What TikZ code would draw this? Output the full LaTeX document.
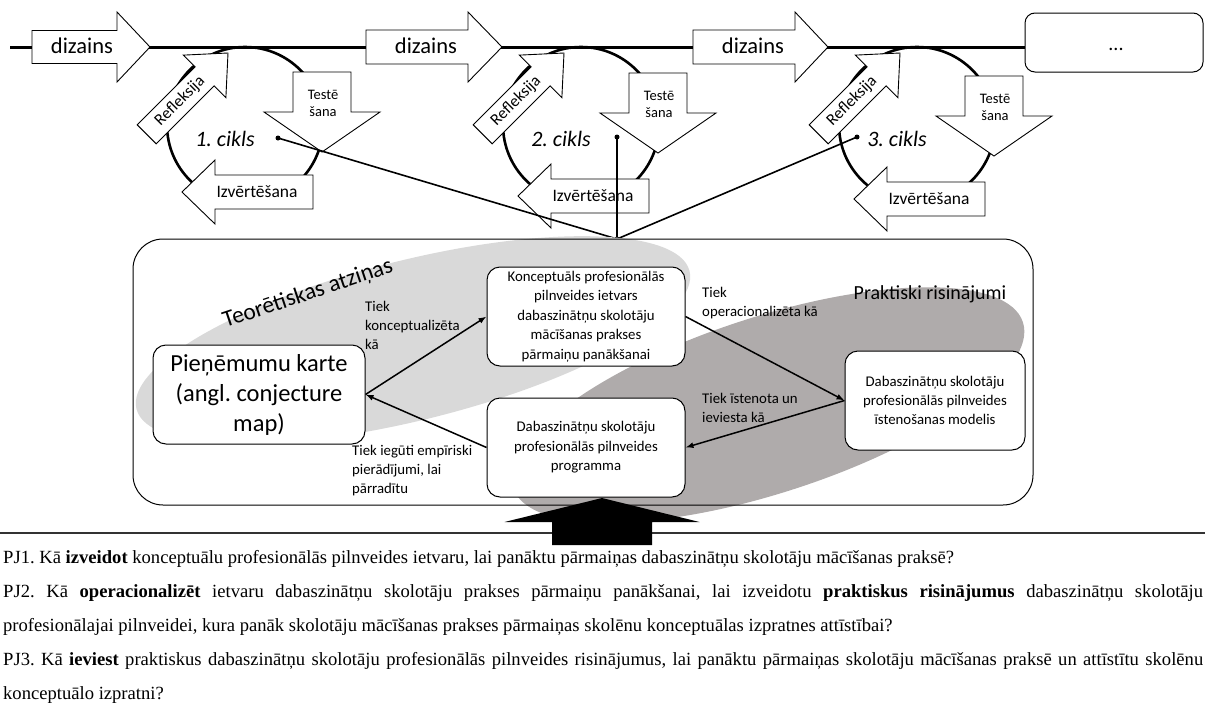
\documentclass[tikz,border=0pt]{standalone}
\usepackage{fontspec}
\setmainfont{Carlito}
\newfontfamily\serifpj{Liberation Serif}
\usetikzlibrary{arrows.meta}
\frenchspacing

% block arrow: tip x, tip y, direction, head length, head half width,
% body length, body half width, path style
\newcommand\fatarrow[8]{%
  \path[#8, shift={(#1,#2)}, rotate=#3]
    (0,0) -- (-#4,#5) -- (-#4,#7) -- ({-#4-#6},#7) -- ({-#4-#6},-#7)
    -- (-#4,-#7) -- (-#4,-#5) -- cycle;}
\newcommand\fsz[2]{\fontsize{#1}{#2}\selectfont}

\definecolor{theorygray}{RGB}{217,217,217}
\definecolor{practicegray}{RGB}{175,171,171}

\tikzset{
  outl/.style={draw=black, line width=0.9pt, fill=white, line join=miter},
  ring/.style={line width=2.6pt},
  topline/.style={line width=3pt},
  box/.style={draw, line width=1pt, rounded corners=13pt, fill=white,
    align=center, inner sep=2pt},
  lbl/.style={align=left, inner sep=0pt, anchor=west, font=\fsz{14.8}{19}},
  arr/.style={line width=1.5pt, -{Latex[length=8pt,width=6pt]}},
  conn/.style={line width=1.6pt},
  dotn/.style={circle, fill=black, inner sep=0pt, minimum size=5pt},
  pjline/.style={anchor=base west, inner sep=0pt, font=\serifpj\fsz{18.6}{18.6}},
}

% one design cycle: index, x offset, y offset of the evaluation arrow,
% y offset of the testing arrow
\newcommand\cyclepart[4]{%
  \begin{scope}[shift={(#2,0)}]
    \draw[ring] (245,125) circle [radius=78];
    \fatarrow{228}{53}{45}{33}{30}{82}{13.5}{outl}
    \node[rotate=45, inner sep=0pt, font=\fsz{16.5}{16.5}] (refl#1) at (180,101) {Refleksija};
    \fatarrow{322}{152+#4}{-90}{40}{58}{40}{29}{outl}
    \node[align=center, inner sep=0pt, font=\fsz{14.5}{17}] (test#1) at (323,103+#4) {Testē\\šana};
    \fatarrow{182}{192+#3}{180}{33}{32}{98}{17}{outl}
    \node[inner sep=0pt, font=\fsz{17.5}{17.5}] (eval#1) at (257,192+#3) {Izvērtēšana};
    \node[inner sep=0pt, font=\fsz{22}{22}\itshape] (cyc#1) at (225,139) {#1. cikls};
  \end{scope}}

\begin{document}
\begin{tikzpicture}[x=1pt, y=-1pt]
\useasboundingbox (0,0) rectangle (1205,704);

% design time line
\coordinate (lineL) at (10,47);
\coordinate (lineR) at (1025,47);
\draw[topline] (lineL) -- (lineR);

% the three cycles
\cyclepart{1}{0}{0}{0}
\cyclepart{2}{336}{4}{1}
\cyclepart{3}{672}{7}{4}

% design arrows on the time line
\fatarrow{150}{47}{0}{33}{35}{85}{16.5}{outl}
\node[inner sep=0pt, font=\fsz{22.5}{22.5}] (diz1) at (82,46) {dizains};
\fatarrow{502}{47}{0}{34}{35}{102}{17}{outl}
\node[inner sep=0pt, font=\fsz{22.5}{22.5}] (diz2) at (426,46) {dizains};
\fatarrow{828}{47}{0}{33}{35}{102}{17}{outl}
\node[inner sep=0pt, font=\fsz{22.5}{22.5}] (diz3) at (753,46) {dizains};
\node[draw, line width=1pt, rounded corners=10pt, fill=white,
      minimum width=178pt, minimum height=59pt] (more) at (1114,42.5) {};
\node[anchor=base, inner sep=0pt, font=\fsz{20}{20}] (moretext) at (1116,50) {...};

% links from each cycle to the framework
\node[dotn] (d1) at (278,138) {};
\node[dotn] (d2) at (617,137) {};
\node[dotn] (d3) at (857,137) {};
\node[dotn] (hub) at (617,239) {};
\draw[conn] (d1.center) -- (hub.center);
\draw[conn] (d2.center) -- (hub.center);
\draw[conn] (d3.center) -- (hub.center);

% theory and practice areas
\fill[theorygray, rotate around={14:(413,340)}] (413,340) ellipse [x radius=285, y radius=80];
\fill[practicegray, rotate around={18:(768,405)}] (768,405) ellipse [x radius=268, y radius=88];
\node[draw, line width=1pt, rounded corners=30pt, minimum width=900pt,
      minimum height=266pt] (frame) at (583,372) {};

\node[rotate=18.5, inner sep=0pt, font=\fsz{23.5}{23.5}] (theory) at (308,294) {Teorētiskas atziņas};
\node[inner sep=0pt, font=\fsz{20}{20}] (practice) at (930,294) {Praktiski risinājumi};

% framework boxes
\node[box, minimum width=212pt, minimum height=99pt, font=\fsz{24.5}{30}] (map) at (259,394.5)
  {Pieņēmumu karte\\(angl. conjecture\\map)};
\node[box, minimum width=198pt, minimum height=99pt, font=\fsz{14.8}{19.4}] (konc) at (586,316.5)
  {Konceptuāls profesionālās\\pilnveides ietvars\\dabaszinātņu skolotāju\\mācīšanas prakses\\pārmaiņu panākšanai};
\node[box, minimum width=198pt, minimum height=99pt, font=\fsz{14.8}{19.4}] (prog) at (586,447.5)
  {Dabaszinātņu skolotāju\\profesionālās pilnveides\\programma};
\node[box, minimum width=180pt, minimum height=99pt, font=\fsz{14.8}{19.4}] (model) at (935,400.5)
  {Dabaszinātņu skolotāju\\profesionālās pilnveides\\īstenošanas modelis};

\draw[arr] (map.east) -- (konc.west);
\draw[arr] (prog.west) -- (map.east);
\draw[arr] (konc.east) -- (model.west);
\draw[arr] (model.west) -- (prog.east);

\node[lbl] (l1) at (365,325) {Tiek\\konceptualizēta\\kā};
\node[lbl] (l2) at (352,471) {Tiek iegūti empīriski\\pierādījumi, lai\\pārradītu};
\node[lbl] (l3) at (702,303) {Tiek\\operacionalizēta kā};
\node[lbl] (l4) at (702,407.5) {Tiek īstenota un\\ieviesta kā};

% separator and research questions
\coordinate (sepL) at (0,533);
\coordinate (sepR) at (1205,533);
\draw[line width=1.2pt, draw=black!80] (sepL) -- (sepR);
\fatarrow{602}{498}{90}{24}{97.5}{23}{50}{fill=black}

\node[pjline] (pj1) at (3,563)
  {PJ1. Kā \textbf{izveidot} konceptuālu profesionālās pilnveides ietvaru, lai panāktu pārmaiņas dabaszinātņu skolotāju mācīšanas praksē?};
\node[pjline] (pj2a) at (3,597)
  {\makebox[1200pt][s]{PJ2. Kā \textbf{operacionalizēt} ietvaru dabaszinātņu skolotāju prakses pārmaiņu panākšanai, lai izveidotu \textbf{praktiskus risinājumus} dabaszinātņu skolotāju}};
\node[pjline] (pj2b) at (3,631)
  {profesionālajai pilnveidei, kura panāk skolotāju mācīšanas prakses pārmaiņas skolēnu konceptuālas izpratnes attīstībai?};
\node[pjline] (pj3a) at (3,665)
  {\makebox[1200pt][s]{PJ3. Kā \textbf{ieviest} praktiskus dabaszinātņu skolotāju profesionālās pilnveides risinājumus, lai panāktu pārmaiņas skolotāju mācīšanas praksē un attīstītu skolēnu}};
\node[pjline] (pj3b) at (3,699)
  {konceptuālo izpratni?};
\end{tikzpicture}
\end{document}
